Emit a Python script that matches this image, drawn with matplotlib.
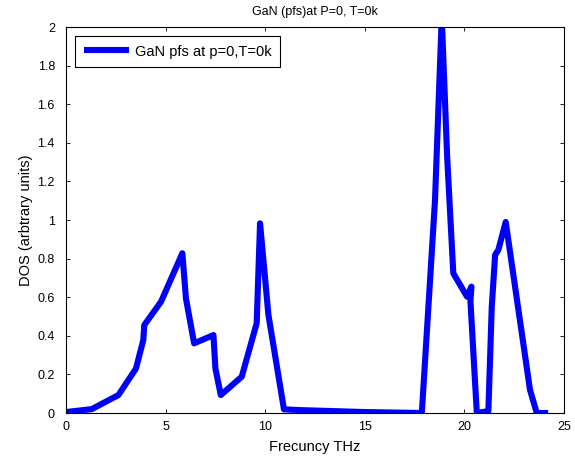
import matplotlib
matplotlib.use('Agg')
import matplotlib.pyplot as plt
import numpy as np

plt.rcParams['font.family'] = ['Liberation Sans', 'DejaVu Sans']

# frequency (THz) and DOS values
freq = [0.0, 1.29, 2.63, 3.51, 3.88, 3.93, 4.77, 5.84, 6.02, 6.43, 7.40, 7.50,
        7.77, 8.82, 9.57, 9.74, 10.16, 10.94, 11.75, 15.0, 17.86, 18.52, 18.86,
        19.13, 19.44, 20.13, 20.35, 20.30, 20.62, 21.20, 21.37, 21.54, 21.70,
        22.07, 23.29, 23.63, 24.20]
dos = [0.005, 0.02, 0.093, 0.23, 0.378, 0.456, 0.577, 0.828, 0.594, 0.361, 0.404, 0.23,
       0.093, 0.188, 0.465, 0.983, 0.508, 0.019, 0.015, 0.005, 0.0, 1.10, 2.05,
       1.33, 0.724, 0.603, 0.655, 0.58, 0.0, 0.01, 0.55, 0.82, 0.845,
       0.99, 0.12, 0.0, 0.0]

xticks = [0, 5, 10, 15, 20, 25]
yticks = [0, 0.2, 0.4, 0.6, 0.8, 1, 1.2, 1.4, 1.6, 1.8, 2]
ytick_labels = ['0', '0.2', '0.4', '0.6', '0.8', '1', '1.2', '1.4', '1.6', '1.8', '2']

fig = plt.figure(figsize=(5.75, 4.59), dpi=100)
ax = fig.add_axes([0.1148, 0.1002, 0.981 - 0.1148, 0.941 - 0.1002])

ax.plot(freq, dos, color='#0000ff', lw=4.4, solid_joinstyle='round',
        solid_capstyle='butt', label='GaN pfs at p=0,T=0k')

ax.set_xlim(0, 25)
ax.set_ylim(0, 2)
ax.set_xticks(xticks)
ax.set_yticks(yticks)
ax.set_yticklabels(ytick_labels)
ax.tick_params(direction='in', top=True, right=True, length=3, width=0.6,
               labelsize=9)
ax.tick_params(axis='x', pad=6)
ax.tick_params(axis='y', pad=8)
for s in ax.spines.values():
    s.set_linewidth(0.8)

ax.set_xlabel('Frecuncy THz', fontsize=10.5, labelpad=5)
ax.set_ylabel('DOS (arbtrary units)', fontsize=10.5, labelpad=3)
ax.set_title('GaN (pfs)at P=0, T=0k', fontsize=9, pad=9)

leg = ax.legend(loc='upper left', fontsize=10.5, fancybox=False, framealpha=1,
                edgecolor='black', handlelength=3.1, handletextpad=0.4,
                borderaxespad=0.6, borderpad=0.6)
leg.get_frame().set_linewidth(0.8)

plt.savefig('out.png', dpi=100)
